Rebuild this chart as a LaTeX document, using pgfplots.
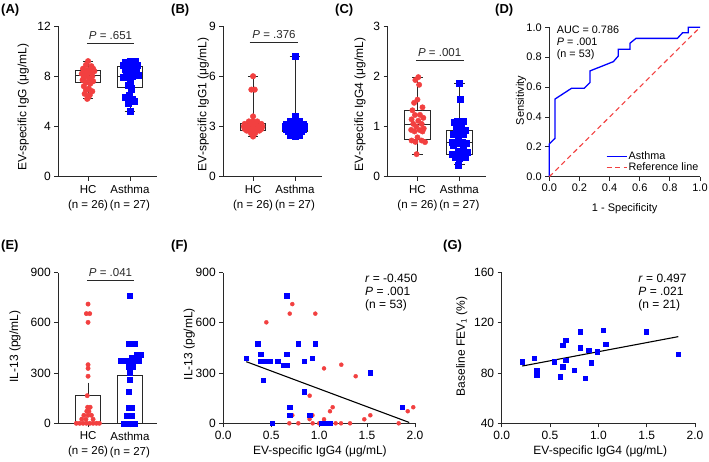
\documentclass[border=0pt]{standalone}
\usepackage{fontspec}
\setmainfont{Liberation Sans}
\usepackage{pgfplots}
\pgfplotsset{compat=1.18}
\usepgfplotslibrary{statistics}
\definecolor{myred}{RGB}{242,64,64}
\definecolor{myblue}{RGB}{0,0,255}
\definecolor{axc}{RGB}{40,40,40}
\pgfplotsset{
  panel/.style={scale only axis, anchor=south west, axis lines*=left,
    axis line style={-, axc, line width=0.8pt},
    tick style={axc, line width=0.8pt},
    tick align=outside, major tick length=4pt,
    clip=false, enlargelimits=false,
    font=\fontsize{12}{14}\selectfont,
    /pgf/number format/assume math mode=true,
    ylabel style={anchor=center}},
  catbox/.style={panel, width=98.5pt, height=150.7pt, xmin=0.29, xmax=2.64,
    boxplot/draw direction=y,
    xtick={1,2}, xticklabels={{HC\\(n = 26)},{Asthma\\(n = 27)}},
    xticklabel style={align=center, font=\fontsize{11.5}{15}\selectfont, yshift=-1pt},
    ymin=0},
  redpt/.style={only marks, mark=*, mark size=#1, mark options={draw=myred, fill=myred, solid}, color=myred},
  bluept/.style={only marks, mark=square*, mark size=#1, mark options={draw=myblue, fill=myblue, solid}, color=myblue},
  bx/.style={axc, line width=0.8pt, solid, fill=white},
  onedec/.style={/pgf/number format/fixed, /pgf/number format/fixed zerofill, /pgf/number format/precision=1},
}
\newcommand{\pbar}[4]{\draw[axc, line width=0.8pt] (axis cs:#1,#3) -- (axis cs:#2,#3) node[midway, above=0pt, font=\fontsize{11.5}{13}\selectfont] {\textit{P} = #4};}
\begin{document}
\begin{tikzpicture}
\useasboundingbox (0pt,0pt) rectangle (709pt,461pt);
% panel labels
\foreach \lab/\xx/\yy in {(A)/1/451,(B)/171/451,(C)/335/451,(D)/495/451,(E)/1/215,(F)/171/215,(G)/443/215}{
  \node[anchor=west, inner sep=0pt, font=\fontsize{13}{15}\selectfont\bfseries] at (\xx pt,\yy pt) {\lab};
}
% ---------------- A
\begin{axis}[catbox, at={(58.3pt,284.3pt)}, ymax=12, ytick={0,4,8,12},
  ylabel={EV-specific IgG (μg/mL)}, ylabel style={at={(axis description cs:-0.355,0.46)}}]
\addplot[bx, boxplot prepared={draw position=1, lower whisker=6.2, lower quartile=7.5, median=8.1, upper quartile=8.45, upper whisker=9.2, box extend=0.6, whisker extend=0.25}] coordinates {};
\addplot[bx, boxplot prepared={draw position=2, lower whisker=5.2, lower quartile=7.15, median=8.0, upper quartile=8.8, upper whisker=9.2, box extend=0.6, whisker extend=0.25}] coordinates {};
\addplot[redpt=2.8pt] coordinates {
(1.0,9.2)(0.95,8.9)(1.08,8.8)(0.88,8.6)(1.12,8.6)(1.0,8.5)(0.92,8.4)(1.15,8.4)(1.05,8.3)(0.85,8.2)
(0.97,8.1)(1.1,8.0)(0.9,7.9)(1.02,7.8)(0.87,7.7)(1.12,7.6)(0.95,7.5)(1.05,7.4)(0.9,7.2)(1.02,7.0)
(0.95,6.9)(1.1,6.8)(0.92,6.6)(1.04,6.5)(1.0,6.3)(0.98,6.2)};
\addplot[bluept=3.1pt] coordinates {
(2.0,9.2)(2.12,9.15)(1.9,9.1)(2.05,9.0)(1.85,8.9)(2.18,8.9)(1.95,8.8)(2.1,8.8)(2.0,8.7)(1.88,8.6)
(2.15,8.6)(2.05,8.5)(1.92,8.4)(2.1,8.2)(2.2,8.1)(1.95,8.0)(2.05,8.0)(1.85,7.9)(2.0,7.5)(1.95,7.3)
(2.02,7.0)(1.98,6.5)(1.9,6.3)(2.05,6.2)(2.1,6.0)(1.95,5.9)(2.0,5.2)};
\pbar{0.97}{2.1}{10.65}{.651}
\end{axis}
% ---------------- B
\begin{axis}[catbox, at={(223.3pt,284.3pt)}, ymax=9, ytick={0,3,6,9},
  ylabel={EV-specific IgG1 (μg/mL)}, ylabel style={at={(axis description cs:-0.203,0.48)}}]
\addplot[bx, boxplot prepared={draw position=1, lower whisker=2.4, lower quartile=2.75, median=3.0, upper quartile=3.2, upper whisker=6.0, box extend=0.6, whisker extend=0.25}] coordinates {};
\addplot[bx, boxplot prepared={draw position=2, lower whisker=2.4, lower quartile=2.7, median=2.95, upper quartile=3.2, upper whisker=7.2, box extend=0.6, whisker extend=0.25}] coordinates {};
\addplot[redpt=2.8pt] coordinates {
(1.0,6.0)(0.96,5.2)(1.04,5.2)(1.0,3.6)(0.9,3.3)(1.0,3.3)(1.1,3.3)
(0.8,3.15)(0.95,3.15)(1.05,3.15)(1.2,3.15)
(0.78,3.0)(0.88,3.0)(1.0,3.0)(1.12,3.0)(1.22,3.0)
(0.8,2.85)(0.92,2.85)(1.08,2.85)(1.2,2.85)
(0.85,2.75)(1.0,2.75)(1.15,2.75)(0.95,2.6)(1.05,2.6)(1.0,2.4)};
\addplot[bluept=3.1pt] coordinates {
(2.0,7.2)(2.0,3.6)(2.0,3.4)(1.9,3.3)(2.1,3.3)
(1.8,3.15)(1.95,3.15)(2.05,3.15)(2.2,3.15)
(1.78,3.0)(1.9,3.0)(2.0,3.0)(2.1,3.0)(2.22,3.0)
(1.8,2.85)(1.92,2.85)(2.08,2.85)(2.2,2.85)(2.0,2.9)
(1.85,2.75)(2.0,2.75)(2.15,2.75)(1.95,2.6)(2.05,2.6)(1.9,2.5)(2.1,2.5)(2.0,2.4)};
\pbar{0.92}{2.08}{8.03}{.376}
\end{axis}
% ---------------- C
\begin{axis}[catbox, at={(387.7pt,284.3pt)}, ymax=3, ytick={0,1,2,3},
  ylabel={EV-specific IgG4 (μg/mL)}, ylabel style={at={(axis description cs:-0.281,0.48)}}]
\addplot[bx, boxplot prepared={draw position=1, lower whisker=0.449, lower quartile=0.75, median=1.05, upper quartile=1.31, upper whisker=1.982, box extend=0.6, whisker extend=0.25}] coordinates {};
\addplot[bx, boxplot prepared={draw position=2, lower whisker=0.237, lower quartile=0.45, median=0.69, upper quartile=0.92, upper whisker=1.864, box extend=0.6, whisker extend=0.25}] coordinates {};
\addplot[redpt=2.7pt] coordinates {
(1.02,1.982)(0.95,1.924)(1.04,1.83)(1.0,1.534)(0.92,1.471)(1.12,1.381)(0.88,1.322)(1.06,1.231)(0.94,1.228)(1.14,1.172)
(0.86,1.141)(1.02,1.113)(0.9,1.051)(1.1,1.051)(0.97,1.0)(1.15,0.96)(0.85,0.932)(1.05,0.93)(0.93,0.901)(1.12,0.90)
(1.0,0.783)(0.86,0.72)(1.1,0.72)(0.95,0.693)(1.18,0.689)(0.98,0.449)};
\addplot[bluept=3pt] coordinates {
(2.0,1.864)(2.02,1.534)(1.95,1.113)(2.1,1.10)(1.88,1.079)(2.04,1.026)(1.92,0.96)(2.14,0.929)(2.0,0.901)(1.86,0.842)
(2.1,0.842)(1.97,0.779)(1.84,0.693)(2.06,0.693)(1.93,0.661)(2.16,0.661)(2.02,0.661)(1.86,0.63)(2.1,0.567)(1.97,0.511)
(2.18,0.484)(1.84,0.453)(2.04,0.42)(1.9,0.39)(2.14,0.39)(2.0,0.359)(1.98,0.237)};
\pbar{0.96}{2.1}{2.31}{.001}
\end{axis}
% ---------------- D
\begin{axis}[panel, at={(549.3pt,284.3pt)}, width=150.7pt, height=149.4pt,
  xmin=0, xmax=1, ymin=0, ymax=1,
  xtick={0,0.2,0.4,0.6,0.8,1}, ytick={0,0.2,0.4,0.6,0.8,1},
  font=\fontsize{11}{12}\selectfont,
  xticklabel style={onedec}, yticklabel style={onedec},
  xlabel={1 - Specificity}, ylabel={Sensitivity},
  xlabel style={at={(axis description cs:0.5,-0.216)}, anchor=center},
  ylabel style={at={(axis description cs:-0.188,0.51)}},
  legend style={draw=none, fill=none, at={(axis description cs:1.0,0.02)}, anchor=south east,
    inner sep=0pt, row sep=-1.5pt, font=\fontsize{10.8}{12}\selectfont, nodes={inner sep=1.5pt}},
  legend cell align=left,
  legend image code/.code={\draw[#1] (0pt,0pt) -- (20pt,0pt);}]
\addplot[myblue, line width=1.3pt] coordinates {
(0,0)(0,0.219)(0.038,0.257)(0.038,0.52)(0.148,0.592)(0.232,0.592)(0.27,0.63)(0.27,0.708)
(0.425,0.77)(0.458,0.808)(0.458,0.853)(0.535,0.853)(0.535,0.893)(0.575,0.926)(0.85,0.926)
(0.885,0.964)(0.922,0.964)(0.922,1.0)(1,1)};
\addlegendentry{Asthma}
\addplot[myred, line width=1.1pt, dash pattern=on 5pt off 3.5pt] coordinates {(0,0)(1,1)};
\addlegendentry{Reference line}
\node[anchor=west, align=left, inner sep=0pt, font=\fontsize{10.8}{11.7}\selectfont] at (axis cs:0.049,0.897) {AUC = 0.786\\\textit{P} = .001\\(n = 53)};
\end{axis}
% ---------------- E
\begin{axis}[catbox, at={(58.3pt,37.7pt)}, ymax=900, ytick={0,300,600,900},
  ylabel={IL-13 (pg/mL)}, ylabel style={at={(axis description cs:-0.44,0.51)}}]
\addplot[ybar, bar width=0.6, bar shift=0pt, draw=axc, line width=0.8pt, fill=white,
  error bars/.cd, y dir=plus, y explicit, error bar style={axc, line width=0.8pt},
  error mark options={axc, line width=0.8pt, mark size=5pt}]
  coordinates {(1,165) +- (0,48) (2,285) +- (0,39)};
\addplot[redpt=2.2pt] coordinates {
(1.0,712)(0.96,655)(1.04,655)(1.0,603)(1.0,350)(1.0,328)(1.0,281)(0.98,165)(1.05,96)(0.97,72)
(0.9,48)(1.08,48)(0.85,25)(1.12,24)(0.95,24)(1.0,48)(1.02,72)(0.99,96)
(0.72,0)(0.8,0)(0.88,0)(0.96,0)(1.04,0)(1.12,0)(1.2,0)(1.27,0)};
\addplot[bluept=2.5pt] coordinates {
(2.0,762)(1.96,475)(2.04,475)(2.12,475)(2.16,412)(2.26,412)
(1.78,372)(1.88,372)(1.98,372)(2.08,372)(2.2,372)(2.05,390)(2.15,390)
(1.98,340)(2.06,340)(2.0,302)(2.0,259)(1.98,189)(1.96,95)(2.04,95)(1.92,48)(2.04,48)
(1.86,0)(1.94,0)(2.0,0)(2.06,0)(2.12,0)};
\pbar{0.97}{2.1}{852}{.041}
\end{axis}
% ---------------- F
\begin{axis}[panel, at={(223.3pt,37.7pt)}, width=191.7pt, height=150.7pt,
  xmin=0, xmax=2, ymin=0, ymax=900,
  xtick={0,0.5,1,1.5,2}, ytick={0,300,600,900},
  xticklabel style={onedec},
  xlabel={EV-specific IgG4 (μg/mL)}, ylabel={IL-13 (pg/mL)},
  xlabel style={at={(axis description cs:0.504,-0.184)}, anchor=center},
  ylabel style={at={(axis description cs:-0.177,0.526)}}]
\addplot[redpt=2pt] coordinates {
(0.72,712)(0.693,655)(0.96,655)(0.449,603)(1.051,328)(1.231,350)(1.381,281)(0.901,165)(1.141,96)(1.113,72)
(0.72,48)(0.93,48)(0.90,25)(1.051,24)(1.471,24)(1.534,48)(1.924,72)(1.982,96)
(0.689,0)(0.783,0)(0.932,0)(1.172,0)(1.228,0)(1.322,0)(1.83,0)(1.0,0)};
\addplot[bluept=2.1pt] coordinates {
(0.237,390)(0.359,475)(0.39,412)(0.39,372)(0.42,259)(0.453,372)(0.484,372)(0.511,0)(0.567,372)(0.63,348)
(0.661,348)(0.661,412)(0.661,762)(0.693,95)(0.693,48)(0.779,475)(0.842,372)(0.842,189)(0.929,390)(0.96,475)
(0.901,48)(1.026,0)(1.079,0)(1.113,0)(1.10,0)(1.534,302)(1.864,95)};
\addplot[black, line width=1.1pt] coordinates {(0.24,368)(1.94,5)};
\node[anchor=west, align=left, inner sep=0pt, font=\fontsize{12}{13.2}\selectfont] at (axis cs:1.478,780) {\textit{r} = -0.450\\\textit{P} = .001\\(n = 53)};
\end{axis}
% ---------------- G
\begin{axis}[panel, at={(501.7pt,37.7pt)}, width=193.3pt, height=150.7pt,
  xmin=0, xmax=2, ymin=40, ymax=160,
  xtick={0,0.5,1,1.5,2}, ytick={40,80,120,160},
  xticklabel style={onedec},
  xlabel={EV-specific IgG4 (μg/mL)}, ylabel={Baseline FEV\textsubscript{1} (\%)},
  xlabel style={at={(axis description cs:0.51,-0.184)}, anchor=center},
  ylabel style={at={(axis description cs:-0.207,0.51)}}]
\addplot[bluept=2.2pt] coordinates {
(0.214,89.1)(0.334,92)(0.362,82.2)(0.362,78.2)(0.541,89.1)(0.631,102.1)(0.662,106.1)(0.631,85.1)(0.662,90.2)(0.603,77.2)
(0.748,82.2)(0.81,113)(0.81,100.3)(0.9,98.1)(0.928,88.1)(0.866,76.1)(0.99,97.1)(1.048,114.1)(1.076,103.2)(1.493,113)(1.824,95)};
\addplot[black, line width=1.1pt] coordinates {(0.213,85.6)(1.827,109)};
\node[anchor=west, align=left, inner sep=0pt, font=\fontsize{12}{13.2}\selectfont] at (axis cs:1.413,144) {\textit{r} = 0.497\\\textit{P} = .021\\(n = 21)};
\end{axis}
\end{tikzpicture}
\end{document}
